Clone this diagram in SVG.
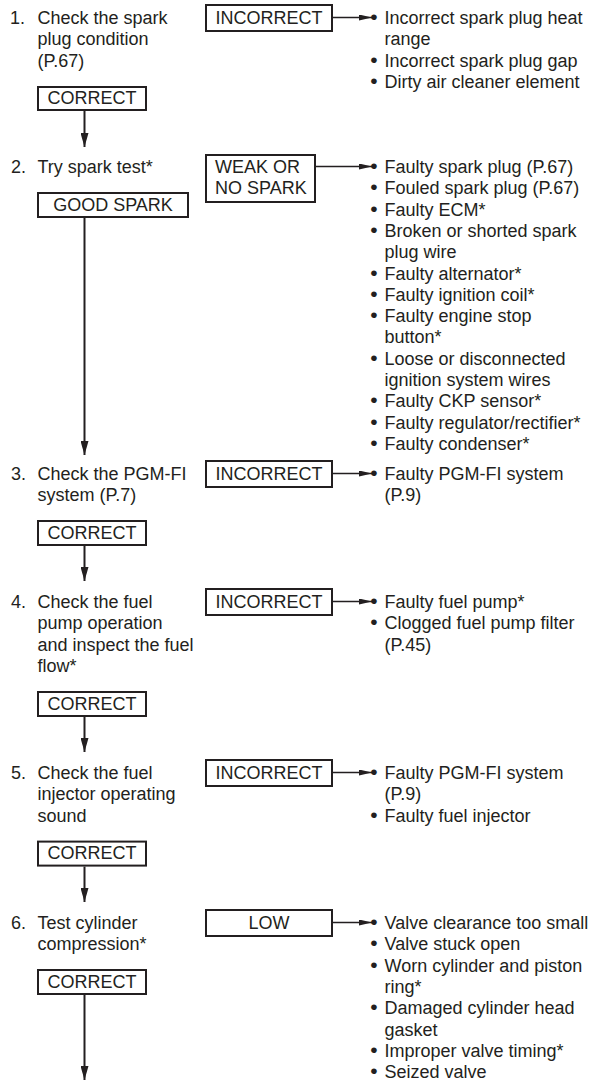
<svg xmlns="http://www.w3.org/2000/svg" width="598" height="1081" viewBox="0 0 598 1081">
<style>
text{font-family:"Liberation Sans",Arial,sans-serif;font-size:18px;fill:#231f20}
.box{fill:#fff;stroke:#231f20;stroke-width:2}
.c{text-anchor:middle}
.b{text-anchor:middle;font-size:21px}
.v{stroke:#231f20;stroke-width:2;fill:none;marker-end:url(#av)}
.h{stroke:#231f20;stroke-width:1.5;fill:none;marker-end:url(#ah)}
</style>
<defs>
<marker id="av" markerUnits="userSpaceOnUse" markerWidth="14" markerHeight="8" refX="14" refY="4" orient="auto"><path d="M0,0 L14,4 L0,8 z" fill="#231f20"/></marker>
<marker id="ah" markerUnits="userSpaceOnUse" markerWidth="13" markerHeight="6" refX="13" refY="3" orient="auto"><path d="M0,0 L13,3 L0,6 z" fill="#231f20"/></marker>
</defs>
<rect width="598" height="1081" fill="#fff"/>

<g id="connectors">
<line class="v" x1="84.5" y1="111" x2="84.5" y2="147"/>
<line class="v" x1="84.5" y1="218" x2="84.5" y2="455"/>
<line class="v" x1="84.5" y1="546" x2="84.5" y2="581"/>
<line class="v" x1="84.5" y1="717" x2="84.5" y2="752"/>
<line class="v" x1="84.5" y1="866.6" x2="84.5" y2="902"/>
<line class="v" x1="84.5" y1="995" x2="84.5" y2="1080"/>
<line class="h" x1="333" y1="17.5" x2="372" y2="17.5"/>
<line class="h" x1="316" y1="166.5" x2="372" y2="166.5"/>
<line class="h" x1="333" y1="473.5" x2="372" y2="473.5"/>
<line class="h" x1="333" y1="601.5" x2="372" y2="601.5"/>
<line class="h" x1="333" y1="772.5" x2="372" y2="772.5"/>
<line class="h" x1="333" y1="922.5" x2="372" y2="922.5"/>
</g>

<g id="step1">
<text x="10" y="24">1.</text>
<text x="37.5" y="24">Check the spark</text>
<text x="37.5" y="45.3">plug condition</text>
<text x="37.5" y="66.6">(P.67)</text>
</g>
<g id="correct1"><rect class="box" x="38" y="87" width="108" height="23"/><text class="c" x="92" y="104">CORRECT</text></g>
<g id="incorrect1"><rect class="box" x="206" y="5" width="126" height="26"/><text class="c" x="269" y="24">INCORRECT</text></g>
<g id="causes1">
<text class="b" x="374" y="24">•</text><text x="384.5" y="24">Incorrect spark plug heat</text>
<text x="384.5" y="45.3">range</text>
<text class="b" x="374" y="66.6">•</text><text x="384.5" y="66.6">Incorrect spark plug gap</text>
<text class="b" x="374" y="87.9">•</text><text x="384.5" y="87.9">Dirty air cleaner element</text>
</g>

<g id="step2">
<text x="11" y="173">2.</text>
<text x="37.5" y="173">Try spark test*</text>
</g>
<g id="goodspark"><rect class="box" x="38" y="193" width="150" height="24"/><text class="c" x="113" y="210.5">GOOD SPARK</text></g>
<g id="weak"><rect class="box" x="206" y="155" width="109" height="47"/><text x="215" y="173">WEAK OR</text><text x="215" y="194.3">NO SPARK</text></g>
<g id="causes2">
<text class="b" x="374" y="173">•</text><text x="384.5" y="173">Faulty spark plug (P.67)</text>
<text class="b" x="374" y="194.3">•</text><text x="384.5" y="194.3">Fouled spark plug (P.67)</text>
<text class="b" x="374" y="215.6">•</text><text x="384.5" y="215.6">Faulty ECM*</text>
<text class="b" x="374" y="236.9">•</text><text x="384.5" y="236.9">Broken or shorted spark</text>
<text x="384.5" y="258.2">plug wire</text>
<text class="b" x="374" y="279.5">•</text><text x="384.5" y="279.5">Faulty alternator*</text>
<text class="b" x="374" y="300.8">•</text><text x="384.5" y="300.8">Faulty ignition coil*</text>
<text class="b" x="374" y="322.1">•</text><text x="384.5" y="322.1">Faulty engine stop</text>
<text x="384.5" y="343.4">button*</text>
<text class="b" x="374" y="364.7">•</text><text x="384.5" y="364.7">Loose or disconnected</text>
<text x="384.5" y="386">ignition system wires</text>
<text class="b" x="374" y="407.3">•</text><text x="384.5" y="407.3">Faulty CKP sensor*</text>
<text class="b" x="374" y="428.6">•</text><text x="384.5" y="428.6">Faulty regulator/rectifier*</text>
<text class="b" x="374" y="449.9">•</text><text x="384.5" y="449.9">Faulty condenser*</text>
</g>

<g id="step3">
<text x="11" y="480">3.</text>
<text x="37.5" y="480">Check the PGM-FI</text>
<text x="37.5" y="501.3">system (P.7)</text>
</g>
<g id="correct3"><rect class="box" x="38" y="521" width="108" height="24"/><text class="c" x="92" y="538.5">CORRECT</text></g>
<g id="incorrect3"><rect class="box" x="206" y="461" width="126" height="26"/><text class="c" x="269" y="480">INCORRECT</text></g>
<g id="causes3">
<text class="b" x="374" y="480">•</text><text x="384.5" y="480">Faulty PGM-FI system</text>
<text x="384.5" y="501.3">(P.9)</text>
</g>

<g id="step4">
<text x="11" y="608">4.</text>
<text x="37.5" y="608">Check the fuel</text>
<text x="37.5" y="629.3">pump operation</text>
<text x="37.5" y="650.6">and inspect the fuel</text>
<text x="37.5" y="671.9">flow*</text>
</g>
<g id="correct4"><rect class="box" x="38" y="692" width="108" height="24"/><text class="c" x="92" y="709.5">CORRECT</text></g>
<g id="incorrect4"><rect class="box" x="206" y="589" width="126" height="26"/><text class="c" x="269" y="608">INCORRECT</text></g>
<g id="causes4">
<text class="b" x="374" y="608">•</text><text x="384.5" y="608">Faulty fuel pump*</text>
<text class="b" x="374" y="629.3">•</text><text x="384.5" y="629.3">Clogged fuel pump filter</text>
<text x="384.5" y="650.6">(P.45)</text>
</g>

<g id="step5">
<text x="11" y="779">5.</text>
<text x="37.5" y="779">Check the fuel</text>
<text x="37.5" y="800.3">injector operating</text>
<text x="37.5" y="821.6">sound</text>
</g>
<g id="correct5"><rect class="box" x="38" y="841.6" width="108" height="24"/><text class="c" x="92" y="859">CORRECT</text></g>
<g id="incorrect5"><rect class="box" x="206" y="760" width="126" height="26"/><text class="c" x="269" y="779">INCORRECT</text></g>
<g id="causes5">
<text class="b" x="374" y="779">•</text><text x="384.5" y="779">Faulty PGM-FI system</text>
<text x="384.5" y="800.3">(P.9)</text>
<text class="b" x="374" y="821.6">•</text><text x="384.5" y="821.6">Faulty fuel injector</text>
</g>

<g id="step6">
<text x="11" y="929">6.</text>
<text x="37.5" y="929">Test cylinder</text>
<text x="37.5" y="950.3">compression*</text>
</g>
<g id="correct6"><rect class="box" x="38" y="970" width="108" height="24"/><text class="c" x="92" y="987.5">CORRECT</text></g>
<g id="low"><rect class="box" x="206" y="910" width="126" height="26"/><text class="c" x="269" y="929">LOW</text></g>
<g id="causes6">
<text class="b" x="374" y="929">•</text><text x="384.5" y="929">Valve clearance too small</text>
<text class="b" x="374" y="950.3">•</text><text x="384.5" y="950.3">Valve stuck open</text>
<text class="b" x="374" y="971.6">•</text><text x="384.5" y="971.6">Worn cylinder and piston</text>
<text x="384.5" y="992.9">ring*</text>
<text class="b" x="374" y="1014.2">•</text><text x="384.5" y="1014.2">Damaged cylinder head</text>
<text x="384.5" y="1035.5">gasket</text>
<text class="b" x="374" y="1056.8">•</text><text x="384.5" y="1056.8">Improper valve timing*</text>
<text class="b" x="374" y="1078.1">•</text><text x="384.5" y="1078.1">Seized valve</text>
</g>
</svg>
